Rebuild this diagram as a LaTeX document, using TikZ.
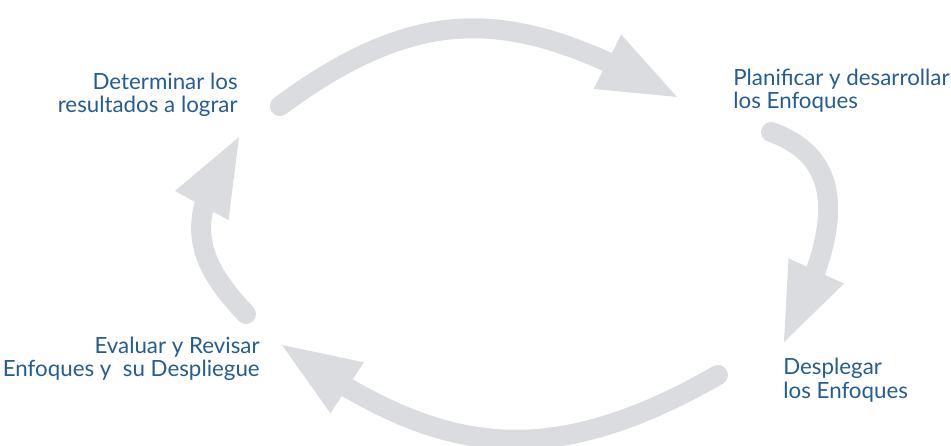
\documentclass[tikz,border=0pt]{standalone}
\usepackage{fontspec}
\setmainfont{Lato}
\usetikzlibrary{arrows.meta,bending}
\definecolor{cgray}{HTML}{DADCDF}
\definecolor{cblue}{HTML}{245C94}
\tikzset{
  % broad pale arrows of the cycle
  cyc/.style = {draw=cgray, line width=0.4cm, line cap=round,
                -{Triangle[length=1.56cm,width=1.22cm,line width=0pt,flex']}},
  stage/.style = {font=\fontsize{12.7}{13.6}\selectfont, text=cblue, inner sep=0pt},
}
\begin{document}
\begin{tikzpicture}[x=0.02cm,y=-0.02cm]
\useasboundingbox (0,0) rectangle (951,446);
% stages
\node[stage, align=right, anchor=base east] (res) at (238,113)
      {Determinar los\\resultados a lograr};
\node[stage, align=left, anchor=base west] (plan) at (733,109)
      {Planificar y desarrollar\\los Enfoques};
\node[stage, align=left, anchor=base west] (desp) at (783,398)
      {Desplegar\\los Enfoques};
\node[stage, align=right, anchor=base east] (eval) at (260,377)
      {Evaluar y Revisar\\Enfoques y\ \ su Despliegue};
% ends of the arrows
\coordinate (s1) at (280,106);  \coordinate (t1) at (677,97);
\coordinate (s2) at (771,132);  \coordinate (t2) at (784,342);
\coordinate (s3) at (718,375);  \coordinate (t3) at (282,345);
\coordinate (s4) at (246,314);  \coordinate (t4) at (239,137);
\draw[cyc] (s1) .. controls (432,-6.5) and (526,14.5) .. (t1);
\draw[cyc] (s2) .. controls (850,160) and (840,235.5) .. (t2);
\draw[cyc] (s3) .. controls (537,478.6) and (429.5,450) .. (t3);
\draw[cyc] (s4) .. controls (190,255) and (185,215) .. (t4);
\end{tikzpicture}
\end{document}
